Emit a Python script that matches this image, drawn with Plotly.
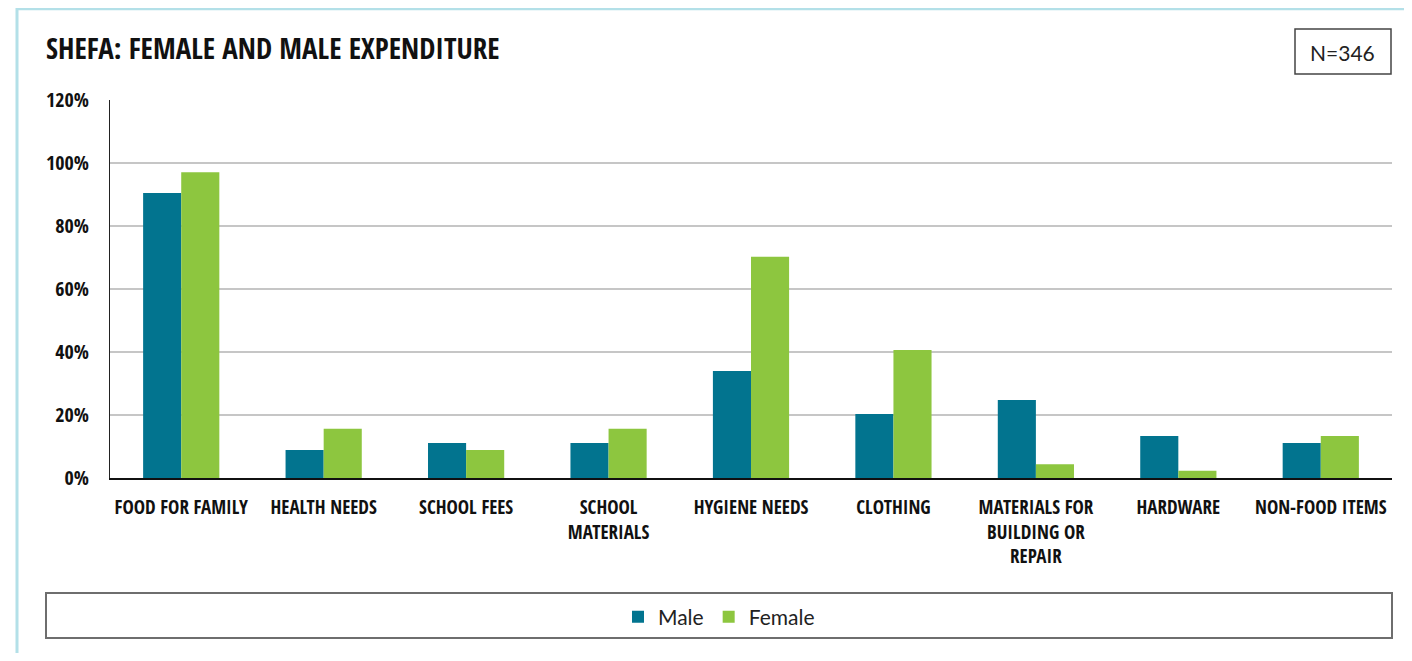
import plotly.graph_objects as go

categories = ["FOOD FOR FAMILY", "HEALTH NEEDS", "SCHOOL FEES", "SCHOOL<br>MATERIALS",
              "HYGIENE NEEDS", "CLOTHING", "MATERIALS FOR<br>BUILDING OR<br>REPAIR",
              "HARDWARE", "NON-FOOD ITEMS"]
male = [90.5, 8.9, 11.1, 11.1, 34.0, 20.3, 24.8, 13.3, 11.1]
female = [97.1, 15.6, 8.9, 15.6, 70.2, 40.6, 4.4, 2.3, 13.3]
y_ticks = [0, 20, 40, 60, 80, 100, 120]
y_ticktext = [f"{v}%" for v in y_ticks]

COND = "'Open Sans Condensed', 'Roboto Condensed', sans-serif"
ROUND = "Lato, 'Noto Sans', sans-serif"

# page has an 8px body margin; work in reference pixel coords and shift
OFF = 8
W, H = 1412 - 2 * OFF, 661 - 2 * OFF
L, R, T, B = 110, 1392, 100, 478   # plot area in reference pixels

def px(x):
    return (x - L) / (R - L)

def py(y):
    return (B - y) / (B - T)

fig = go.Figure()
fig.add_trace(go.Bar(name="Male", x=categories, y=male, marker=dict(color="#02748F", line=dict(width=0))))
fig.add_trace(go.Bar(name="Female", x=categories, y=female, marker=dict(color="#8DC63F", line=dict(width=0))))

fig.update_layout(
    width=W, height=H,
    margin=dict(l=L - OFF, r=W - (R - OFF), t=T - OFF, b=H - (B - OFF), pad=0),
    paper_bgcolor="white", plot_bgcolor="white",
    barmode="group", bargap=0.465, bargroupgap=0,
    showlegend=True,
    legend=dict(orientation="h", x=px(719), y=py(617), xanchor="center", yanchor="middle",
                font=dict(family=ROUND, size=21, color="#222222"), bgcolor="rgba(0,0,0,0)",
                itemwidth=30, traceorder="normal"),
    xaxis=dict(showgrid=False, showline=True, linecolor="#111111", linewidth=2,
               ticks="", tickfont=dict(family=COND, size=19, color="#111111"),
               ticklabelstandoff=11, tickangle=0, fixedrange=True),
    yaxis=dict(range=[0, 120], tickvals=y_ticks, ticktext=y_ticktext,
               showgrid=True, gridcolor="#C6C6C6", gridwidth=1.5,
               showline=True, linecolor="#222222", linewidth=1.2,
               zeroline=False, ticks="",
               tickfont=dict(family=COND, size=20, color="#111111"),
               ticklabelstandoff=16, fixedrange=True),
)

# title
fig.add_annotation(xref="paper", yref="paper", x=px(44), y=py(48), xanchor="left", yanchor="middle",
                   text="<b>SHEFA: FEMALE AND MALE EXPENDITURE</b>", showarrow=False,
                   font=dict(family=COND, size=29, color="#111111"))
# N box
fig.add_shape(type="rect", xref="paper", yref="paper", x0=px(1295), x1=px(1391), y0=py(74), y1=py(29),
              line=dict(color="#444444", width=1.5), fillcolor="white", layer="above")
fig.add_annotation(xref="paper", yref="paper", x=px(1342), y=py(52), xanchor="center", yanchor="middle",
                   text="N=346", showarrow=False, font=dict(family=ROUND, size=21, color="#222222"))
# legend box
fig.add_shape(type="rect", xref="paper", yref="paper", x0=px(46), x1=px(1392), y0=py(638), y1=py(593),
              line=dict(color="#6E6E6E", width=2), fillcolor="rgba(0,0,0,0)", layer="above")
# outer cyan frame
fig.add_shape(type="line", xref="paper", yref="paper", x0=px(16), x1=px(1420), y0=py(9), y1=py(9),
              line=dict(color="#B3E0E8", width=2.5))
fig.add_shape(type="line", xref="paper", yref="paper", x0=px(17), x1=px(17), y0=py(8), y1=py(670),
              line=dict(color="#B3E0E8", width=3))

fig.write_html("out.html")
